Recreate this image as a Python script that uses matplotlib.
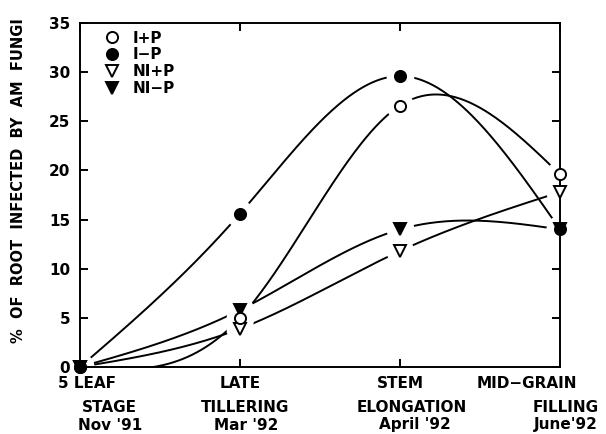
import numpy as np
import matplotlib
matplotlib.use('Agg')
import matplotlib.pyplot as plt
from matplotlib.transforms import blended_transform_factory

# growth stages (x positions 0..3)
stages = [["5 LEAF", "STAGE", "Nov '91"],
          ["LATE", "TILLERING", "Mar '92"],
          ["STEM", "ELONGATION", "April '92"],
          ["MID\u2212GRAIN", "FILLING", "June'92"]]
stage_x = np.array([0, 1, 2, 3])

# % root infected
i_plus_p = [0, 5.0, 26.6, 19.6]
i_minus_p = [0, 15.6, 29.6, 14.0]
ni_plus_p = [0, 3.9, 11.8, 17.8]
ni_minus_p = [0, 5.8, 14.0, 14.0]

yticks = [0, 5, 10, 15, 20, 25, 30, 35]


def spline(x, y, n=300):
    # natural cubic spline through the points, just for drawing
    x = np.asarray(x, float)
    y = np.asarray(y, float)
    k = len(x)
    h = np.diff(x)
    A = np.zeros((k, k))
    b = np.zeros(k)
    A[0, 0] = A[-1, -1] = 1
    for i in range(1, k - 1):
        A[i, i - 1] = h[i - 1]
        A[i, i] = 2 * (h[i - 1] + h[i])
        A[i, i + 1] = h[i]
        b[i] = 6 * ((y[i + 1] - y[i]) / h[i] - (y[i] - y[i - 1]) / h[i - 1])
    M = np.linalg.solve(A, b)
    xs = np.linspace(x[0], x[-1], n)
    ys = np.empty_like(xs)
    for j, xv in enumerate(xs):
        i = min(np.searchsorted(x, xv, side='right') - 1, k - 2)
        t1 = x[i + 1] - xv
        t0 = xv - x[i]
        ys[j] = (M[i] * t1 ** 3 / (6 * h[i]) + M[i + 1] * t0 ** 3 / (6 * h[i])
                 + (y[i] / h[i] - M[i] * h[i] / 6) * t1
                 + (y[i + 1] / h[i] - M[i + 1] * h[i] / 6) * t0)
    return xs, ys


plt.rcParams['font.family'] = 'DejaVu Sans'
plt.rcParams['font.weight'] = 'bold'

fig = plt.figure(figsize=(6.06, 4.34), dpi=100)
ax = fig.add_axes([80 / 606, 1 - 367 / 434, 480 / 606, 344 / 434])

series = [
    (i_plus_p, 'o', 'white', 'I+P'),
    (i_minus_p, 'o', 'black', 'I\u2212P'),
    (ni_plus_p, 'v', 'white', 'NI+P'),
    (ni_minus_p, 'v', 'black', 'NI\u2212P'),
]

lw = 1.4
handles = {}
for vals, mk, fc, lab in series:
    xs, ys = spline(stage_x, vals)
    ax.plot(xs, ys, color='black', lw=lw, zorder=2)

# white masks leave gaps around the points like the original
for vals, mk, fc, lab in series:
    ax.plot(stage_x, vals, ls='none', marker='o', ms=19, mfc='white',
            mec='white', zorder=3)

for vals, mk, fc, lab in [series[2], series[3], series[0], series[1]]:
    h, = ax.plot(stage_x, vals, ls='none', marker=mk, ms=8, mfc=fc,
                 mec='black', mew=1.4, zorder=6, clip_on=False, label=lab)
    handles[lab] = h

for s in ax.spines.values():
    s.set_linewidth(1.4)
    s.set_zorder(5)

ax.set_xlim(0, 3)
ax.set_ylim(0, 35)
ax.set_yticks(yticks)
ax.set_xticks(stage_x)
ax.set_xticklabels([])
ax.tick_params(direction='in', length=6, width=1.4, labelsize=11, pad=7,
               top=True, right=True)

# x labels, three lines per stage
tr = blended_transform_factory(ax.transData, ax.transAxes)
offsets = [(7, 29, 30), (0, 5, 6), (0, 12, 15), (-33, 6, 6)]
rows = [-16, -40, -58]
for xi, lines, offs in zip(stage_x, stages, offsets):
    for txt, dx, dy in zip(lines, offs, rows):
        ax.annotate(txt, xy=(xi, 0), xycoords=tr, xytext=(dx, dy),
                    textcoords='offset pixels', ha='center', va='center',
                    fontsize=11, fontweight='bold', annotation_clip=False)

fig.text(19 / 606, 1 - 181 / 434, '%  OF  ROOT  INFECTED  BY  AM  FUNGI',
         rotation=90, ha='center', va='center', fontsize=10.5,
         fontweight='bold')

ax.legend([handles[k] for k in ['I+P', 'I\u2212P', 'NI+P', 'NI\u2212P']],
          ['I+P', 'I\u2212P', 'NI+P', 'NI\u2212P'],
          loc='upper left', bbox_to_anchor=(0.05, 0.978), frameon=False,
          borderpad=0, borderaxespad=0, handlelength=1.0, handletextpad=0.9,
          labelspacing=0.12, fontsize=11)

fig.savefig('out.png', dpi=100)
